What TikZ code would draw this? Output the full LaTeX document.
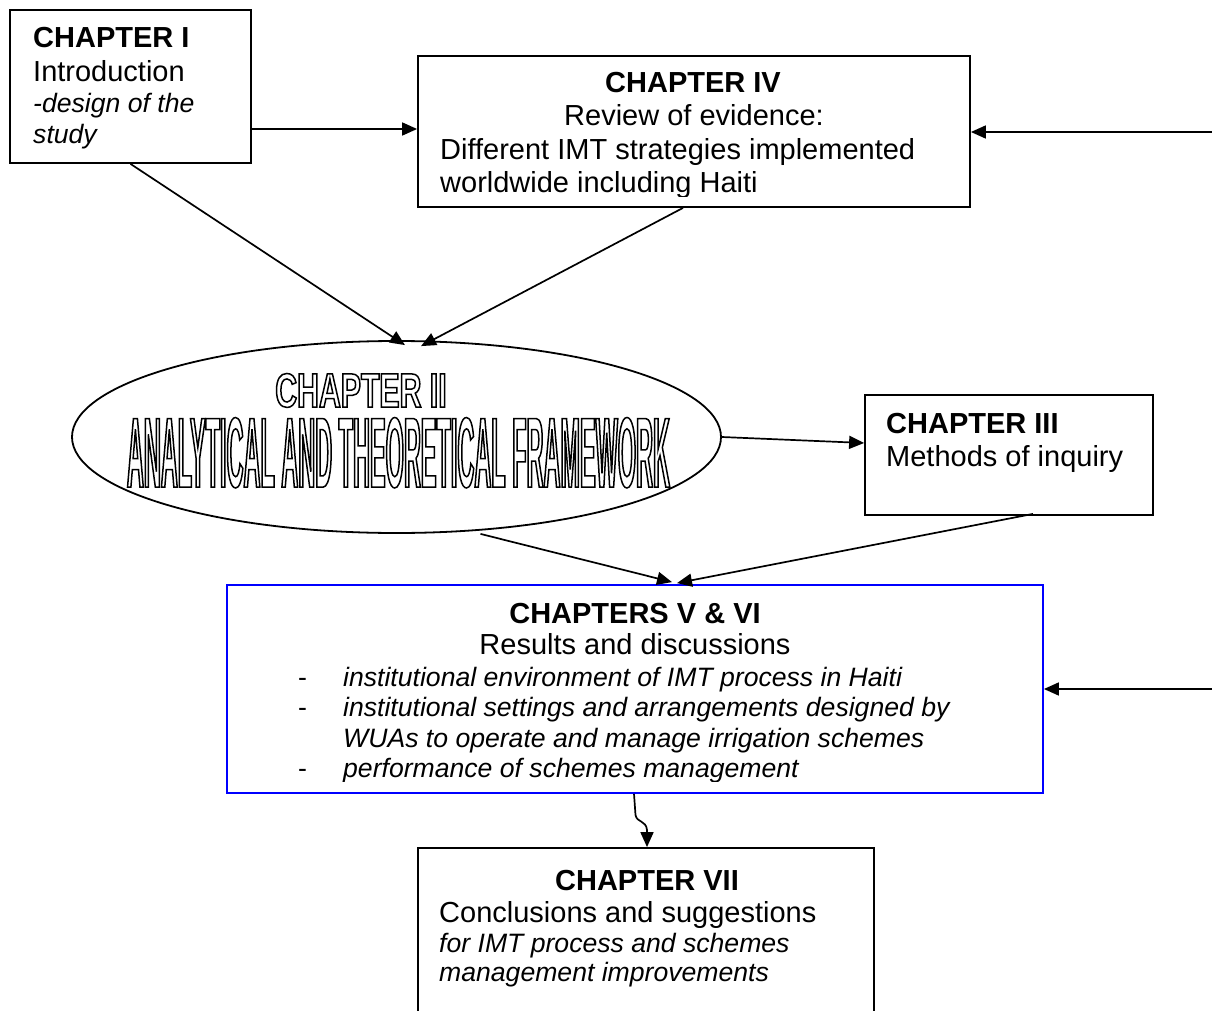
\documentclass[tikz,border=0pt]{standalone}
\usepackage{fontspec}
\setmainfont{Liberation Sans}
\newfontfamily\wachap{Liberation Sans}[FakeStretch=0.63]
\newfontfamily\waframe{Liberation Sans}[FakeStretch=0.236]
\usetikzlibrary{arrows.meta,shapes.geometric,calc}
\newcommand\wordartoutline[1]{\special{pdf:literal direct 1 Tr 1.5 w}#1\special{pdf:literal direct 0 Tr}}
\tikzset{
  box/.style={draw, line width=1.8pt, rectangle, inner sep=0pt},
  conn/.style={line width=1.7pt, -{Triangle[length=15pt,width=13pt]}},
  tmain/.style={inner sep=0pt, font=\fontsize{29}{33}\selectfont},
  tbold/.style={inner sep=0pt, font=\fontsize{29}{33}\selectfont\bfseries},
  tsmall/.style={inner sep=0pt, font=\fontsize{26.6}{30.6}\selectfont},
  tital/.style={inner sep=0pt, font=\fontsize{26.6}{30.6}\selectfont\itshape},
}
\begin{document}
\begin{tikzpicture}[x=1pt,y=-1pt]
\useasboundingbox (0,0) rectangle (1212,1011);
\clip (0,0) rectangle (1212,1011);
% boxes
\node[box, minimum width=241pt, minimum height=153pt] (ch1) at (130.5,86.5) {};
\node[box, minimum width=552pt, minimum height=151pt] (ch4) at (694,131.5) {};
\node[ellipse, draw, line width=1.8pt, minimum width=649pt, minimum height=192pt, inner sep=0pt] (ch2) at (396.5,437) {};
\node[box, minimum width=288pt, minimum height=120pt] (ch3) at (1009,455) {};
\node[box, draw=blue, minimum width=816pt, minimum height=208pt] (ch56) at (635,689) {};
\node[box, minimum width=456pt, minimum height=182pt] (ch7) at (646,939) {};
% chapter I
\node[tbold, anchor=base west] (ch1a) at (33,48) {CHAPTER I};
\node[tmain, anchor=base west] (ch1b) at (33,81.5) {Introduction};
\node[tital, anchor=base west] (ch1c) at (33,113) {-design of the};
\node[tital, anchor=base west] (ch1d) at (33,144) {study};
% chapter IV
\node[tbold, anchor=base] (ch4a) at (693,93) {CHAPTER IV};
\node[tmain, anchor=base] (ch4b) at (694,126) {Review of evidence:};
\node[tmain, anchor=base west] (ch4c) at (440,160) {Different IMT strategies implemented};
\begin{scope}
\clip (419,57) rectangle (969,197);
\node[tmain, anchor=base west] (ch4d) at (440,193) {worldwide including Haiti};
\end{scope}
% chapter III
\node[tbold, anchor=base west] (ch3a) at (886,433) {CHAPTER III};
\node[tmain, anchor=base west] (ch3b) at (886,466) {Methods of inquiry};
% chapters V & VI
\node[tbold, anchor=base] (ch56a) at (635,623) {CHAPTERS V \& VI};
\node[tmain, anchor=base] (ch56b) at (635,654) {Results and discussions};
\node[tsmall, anchor=base west] (d1) at (298,686) {-};
\node[tital, anchor=base west] (b1) at (343,686) {institutional environment of IMT process in Haiti};
\node[tsmall, anchor=base west] (d2) at (298,716.6) {-};
\node[tital, anchor=base west] (b2) at (343,716.6) {institutional settings and arrangements designed by};
\node[tital, anchor=base west] (b2b) at (343,747.2) {WUAs to operate and manage irrigation schemes};
\node[tsmall, anchor=base west] (d3) at (298,777.8) {-};
\begin{scope}
\clip (228,586) rectangle (1042,781.5);
\node[tital, anchor=base west] (b3) at (343,777.8) {performance of schemes management};
\end{scope}
% chapter VII
\node[tbold, anchor=base] (ch7a) at (647,890) {CHAPTER VII};
\node[tmain, anchor=base west] (ch7b) at (439,922) {Conclusions and suggestions};
\node[tital, anchor=base west] (ch7c) at (439,952) {for IMT process and schemes};
\node[tital, anchor=base west] (ch7d) at (439,981) {management improvements};
% connectors
\coordinate (rin1) at (1212,132);
\coordinate (rin2) at (1212,689);
\draw[conn] (ch1.east |- 0,129) -- (ch4.west |- 0,129);
\draw[conn] (rin1) -- (ch4.east |- rin1);
\draw[conn] (ch1.south) -- ($(ch2.north)+(8.5,5)$);
\draw[conn] (ch4.south -| 683,0) -- ($(ch2.north)+(24.5,6)$);
\draw[conn] (ch2.east) -- (ch3.west |- 0,443);
\draw[conn] ($(ch2.south)+(84,0)$) -- ($(ch56.north)+(37,-2)$);
\draw[conn] ($(ch3.south)+(24,-2)$) -- ($(ch56.north)+(42,-1)$);
\draw[conn] (rin2) -- (ch56.east |- rin2);
\draw[conn] (ch56.south -| 634,0) -- (635.5,815) .. controls (637,823) and (646,820) .. (647,830) -- (ch7.north -| 647,0);
% chapter II word-art text
\node[inner sep=0pt, anchor=base, text depth=0pt] (ch2a) at (361,407) {\wachap\bfseries\fontsize{48}{48}\selectfont\wordartoutline{CHAPTER II}};
\node[inner sep=0pt, anchor=base, text height=72pt, text depth=0pt] (ch2b) at (398.5,487) {\waframe\bfseries\fontsize{99.5}{100}\selectfont\wordartoutline{ANALYTICAL AND THEORETICAL FRAMEWORK}};
\end{tikzpicture}
\end{document}
